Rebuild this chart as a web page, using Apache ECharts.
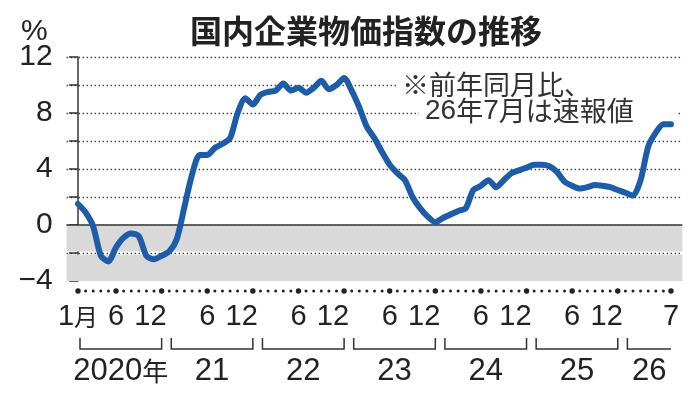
<!DOCTYPE html>
<html>
<head>
<meta charset="utf-8">
<script src="https://cdn.jsdelivr.net/npm/echarts@6/dist/echarts.min.js"></script>
<style>html,body{margin:0;padding:0;background:#fff}#c{width:697px;height:400px}</style>
</head>
<body>
<div id="c"></div>
<script>
// 国内企業物価指数 前年同月比 (%), 2020年1月 〜 2026年7月
const values2020 = [1.5, 0.9, -0.1, -2.2, -2.6, -1.6, -0.9, -0.6, -0.8, -2.2, -2.45, -2.2];
const values2021 = [-1.9, -1.0, 1.3, 3.6, 5.0, 5.0, 5.5, 5.8, 6.2, 8.0, 9.05, 8.6];
const values2022 = [9.3, 9.5, 9.6, 10.1, 9.6, 9.8, 9.45, 9.8, 10.3, 9.7, 10.0, 10.5];
const values2023 = [9.6, 8.4, 7.0, 6.2, 5.2, 4.3, 3.7, 3.2, 2.0, 1.2, 0.6, 0.2];
const values2024 = [0.5, 0.75, 1.0, 1.2, 2.5, 2.8, 3.2, 2.7, 3.2, 3.7, 3.9, 4.1];
const values2025 = [4.3, 4.3, 4.2, 3.8, 3.1, 2.8, 2.6, 2.7, 2.85, 2.8, 2.7, 2.5];
const values2026 = [2.3, 2.1, 3.2, 5.6, 6.6, 7.2, 7.2];
const values = [].concat(values2020, values2021, values2022, values2023, values2024, values2025, values2026);

const yearLabels = ['2020年', '21', '22', '23', '24', '25', '26'];
const monthTickIdx = [0, 5, 11, 17, 23, 29, 35, 41, 47, 53, 59, 65, 71, 78];
const monthTickText = ['1月', '6', '12', '6', '12', '6', '12', '6', '12', '6', '12', '6', '12', '7'];
const yLabelValues = [-4, 0, 4, 8, 12];

const NUM = "'Liberation Sans Narrow','Liberation Sans','Noto Sans CJK JP',sans-serif";
const CJK = "'Noto Sans CJK JP',sans-serif";
const INK = '#222';

const GL = 66.6, GR = 697 - 682.4;

function richText(t) {
  const m = t.match(/^([0-9]+)(.*)$/);
  if (m && m[2]) return '{d|' + m[1] + '}{c|' + m[2] + '}';
  return '{d|' + t + '}';
}

const chart = echarts.init(document.getElementById('c'), null, {renderer: 'canvas'});
chart.setOption({
  animation: false,
  backgroundColor: '#fff',
  title: [
    {text: '国内企業物価指数の推移', left: 190, top: 15, padding: 0,
     textStyle: {fontFamily: CJK, fontSize: 32, fontWeight: 'bold', color: INK}},
    {text: '%', left: 21, top: 17, padding: 0,
     textStyle: {fontFamily: NUM, fontSize: 30, fontWeight: 'normal', color: INK}},
    {text: '※前年同月比、', left: 396, top: 68, z: 1, padding: [3, 104, 3, 6], backgroundColor: '#fff',
     textStyle: {fontFamily: CJK, fontSize: 27, fontWeight: 'normal', color: '#333', lineHeight: 28}},
    {text: '{d|26}{c|年}{d|7}{c|月は速報値}', left: 419, top: 97, z: 1, padding: [0, 44, 0, 6], backgroundColor: '#fff',
     textStyle: {lineHeight: 28, fontWeight: 'normal', rich: {
       d: {fontFamily: NUM, fontSize: 28, fontWeight: 'normal', color: '#333', lineHeight: 28},
       c: {fontFamily: CJK, fontSize: 27, fontWeight: 'normal', color: '#333', lineHeight: 28}
     }}}
  ],
  grid: [
    {left: GL, right: GR, top: 57, bottom: 119},
    {left: GL, right: GR, top: 282, bottom: 0}
  ],
  xAxis: [
    {type: 'value', gridIndex: 0, min: -1.5, max: 79.5, show: false},
    {type: 'value', gridIndex: 1, min: -1.5, max: 79.5, show: false}
  ],
  yAxis: [
    {type: 'value', gridIndex: 0, min: -4, max: 12, interval: 2,
     axisLine: {show: true, lineStyle: {color: '#333', width: 1.5}},
     axisTick: {show: true, length: 9, lineStyle: {color: '#333', width: 1.5}},
     axisLabel: {show: true, margin: 14, fontFamily: NUM, fontSize: 30, color: INK,
       formatter: v => yLabelValues.indexOf(v) >= 0 ? (v < 0 ? '\u2212' + (-v) : String(v)) : ''},
     splitLine: {show: true, showMinLine: false, lineStyle: {type: [1.5, 2.5], color: '#444', width: 1.3}}},
    {type: 'value', gridIndex: 1, min: 0, max: 1, show: false}
  ],
  series: [
    {type: 'line', xAxisIndex: 0, yAxisIndex: 0, data: [], z: 1, silent: true,
     markArea: {silent: true, itemStyle: {color: '#d9d9d9'},
       data: [[{yAxis: 0}, {yAxis: -1.9}], [{yAxis: -2.1}, {yAxis: -4}]]}},
    {type: 'line', xAxisIndex: 0, yAxisIndex: 0, data: [], z: 2, silent: true,
     markLine: {silent: true, symbol: 'none', label: {show: false},
       lineStyle: {color: '#333', width: 1.5, type: 'solid'}, data: [{yAxis: 0}]}},
    {type: 'line', xAxisIndex: 0, yAxisIndex: 0, z: 5,
     data: values.map((v, i) => [i, v]),
     smooth: 0.25, symbol: 'none',
     lineStyle: {color: '#1d5ca8', width: 6, cap: 'round', join: 'round'}},
    {type: 'custom', xAxisIndex: 1, yAxisIndex: 1, silent: true, clip: false,
     data: values.map((v, i) => [i]),
     renderItem: function (params, api) {
       const i = api.value(0);
       const x = api.coord([i, 0])[0];
       const y0 = params.coordSys.y;
       const k = monthTickIdx.indexOf(i);
       const children = [{type: 'circle', shape: {cx: x, cy: y0 + 9, r: k >= 0 ? 2.7 : 1.5}, style: {fill: INK}}];
       if (k >= 0) {
         const t = monthTickText[k];
         const isTwelve = t === '12';
         children.push({type: 'text', style: {
           text: richText(t), x: isTwelve ? x + 5 : x, y: y0 + 35,
           align: isTwelve ? 'right' : 'center', verticalAlign: 'middle',
           rich: {d: {fontFamily: NUM, fontSize: 29, fill: INK}, c: {fontFamily: CJK, fontSize: 24, fill: INK}}
         }});
       }
       return {type: 'group', children: children};
     }},
    {type: 'custom', xAxisIndex: 1, yAxisIndex: 1, silent: true, clip: false,
     data: yearLabels.map((y, k) => [k * 12, Math.min(k * 12 + 11, values.length - 1), k]),
     renderItem: function (params, api) {
       const s = api.value(0), e = api.value(1), k = api.value(2);
       const x1 = api.coord([s, 0])[0] + 2, x2 = api.coord([e, 0])[0];
       const y0 = params.coordSys.y;
       const full = (e - s) === 11;
       const pts = [[x1, y0 + 56], [x1, y0 + 67], [x2, y0 + 67]];
       if (full) pts.push([x2, y0 + 56]);
       return {type: 'group', children: [
         {type: 'polyline', shape: {points: pts}, style: {stroke: '#333', lineWidth: 1.5, fill: null}},
         {type: 'text', style: {
           text: richText(yearLabels[k]), x: (x1 + x2) / 2, y: y0 + 89,
           align: 'center', verticalAlign: 'middle',
           rich: {d: {fontFamily: NUM, fontSize: 31, fill: INK}, c: {fontFamily: CJK, fontSize: 26, fill: INK}}
         }}
       ]};
     }}
  ]
});
</script>
</body>
</html>
